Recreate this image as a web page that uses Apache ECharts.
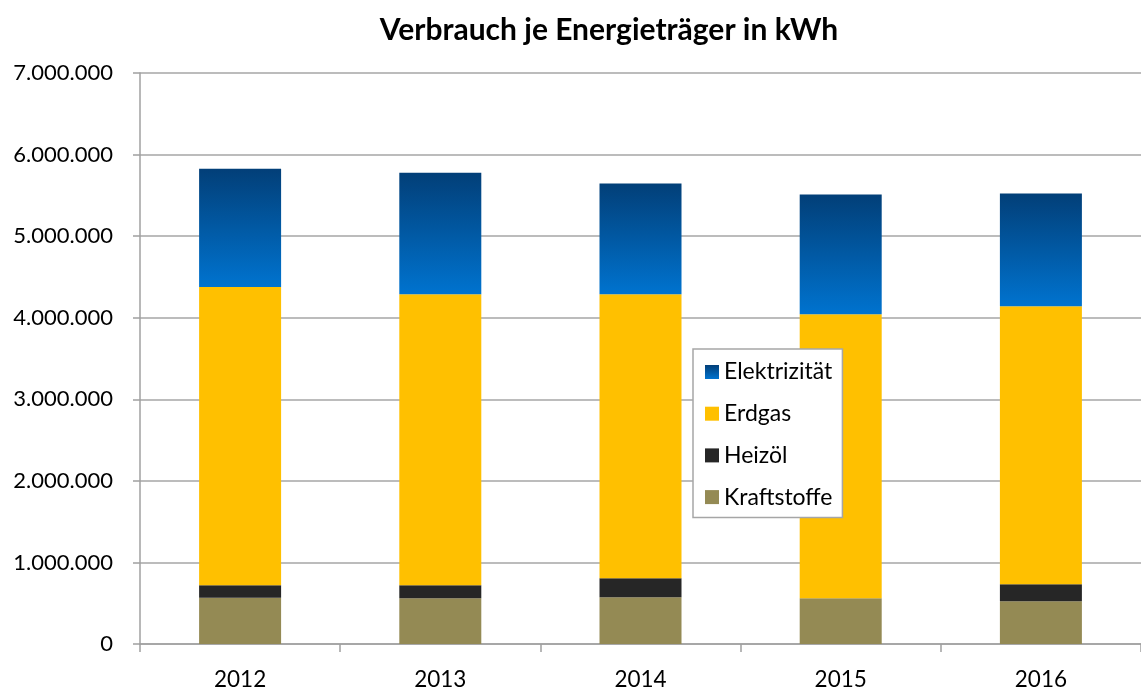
<!DOCTYPE html>
<html>
<head>
<meta charset="utf-8">
<title>Verbrauch je Energieträger in kWh</title>
<script src="https://cdn.jsdelivr.net/npm/echarts@6/dist/echarts.min.js"></script>
<style>
  html, body { margin: 0; padding: 0; background: #fff; }
  #chart { width: 1141px; height: 691px; }
</style>
</head>
<body>
<div id="chart"></div>
<script>
// Werte in kWh
const years = ['2012', '2013', '2014', '2015', '2016']
const kraftstoffe = [566000, 562000, 574000, 562000, 525000]
const heizoel = [155000, 159000, 232000, 0, 208000]
const erdgas = [3656000, 3567000, 3482000, 3481000, 3408000]
const elektrizitaet = [1450000, 1490000, 1356000, 1466000, 1381000]

const yMax = 7000000
const yStep = 1000000

const font = 'Lato, "Open Sans", sans-serif'

// 7000000 -> "7.000.000"
function fmt(v) {
  return String(v).replace(/\B(?=(\d{3})+(?!\d))/g, '.')
}

const elecGradient = new echarts.graphic.LinearGradient(0, 0, 0, 1, [
  { offset: 0, color: '#023f78' },
  { offset: 1, color: '#0073cf' },
])

function stack(name, data, color) {
  return {
    name,
    type: 'bar',
    stack: 'total',
    data,
    barWidth: 82,
    itemStyle: { color },
    emphasis: { disabled: true },
  }
}

const chart = echarts.init(document.getElementById('chart'))
chart.setOption({
  animation: false,
  textStyle: { fontFamily: font },
  title: {
    text: 'Verbrauch je Energieträger in kWh',
    left: 604,
    top: 10,
    textAlign: 'center',
    textStyle: { fontFamily: font, fontSize: 30, fontWeight: 'bold', color: '#000' },
  },
  legend: {
    data: ['Elektrizität', 'Erdgas', 'Heizöl', 'Kraftstoffe'],
    orient: 'vertical',
    left: 693,
    top: 349,
    padding: [11.5, 10, 9, 12],
    itemWidth: 14,
    itemHeight: 14,
    itemGap: 18.7,
    icon: 'rect',
    backgroundColor: '#fff',
    borderColor: '#a6a6a6',
    borderWidth: 1.5,
    borderRadius: 0,
    textStyle: { fontFamily: font, fontSize: 23, lineHeight: 23, color: '#000' },
  },
  grid: { left: 140, top: 73, width: 1007, height: 573 },
  xAxis: {
    type: 'category',
    data: years,
    axisLine: { lineStyle: { color: '#a0a0a0', width: 1.5 } },
    axisTick: { show: true, length: 8, lineStyle: { color: '#a0a0a0', width: 1.5 } },
    axisLabel: { fontFamily: font, fontSize: 22.5, color: '#000', margin: 24 },
  },
  yAxis: {
    type: 'value',
    min: 0,
    max: yMax,
    interval: yStep,
    axisLine: { show: true, lineStyle: { color: '#a0a0a0', width: 1.5 } },
    axisTick: { show: true, length: 7, lineStyle: { color: '#a0a0a0', width: 1.5 } },
    splitLine: { lineStyle: { color: '#a6a6a6', width: 1.5 } },
    axisLabel: { fontFamily: font, fontSize: 22, color: '#000', margin: 27, formatter: fmt },
  },
  series: [
    stack('Kraftstoffe', kraftstoffe, '#948a54'),
    stack('Heizöl', heizoel, '#262626'),
    stack('Erdgas', erdgas, '#ffc000'),
    stack('Elektrizität', elektrizitaet, elecGradient),
  ],
})
</script>
</body>
</html>
